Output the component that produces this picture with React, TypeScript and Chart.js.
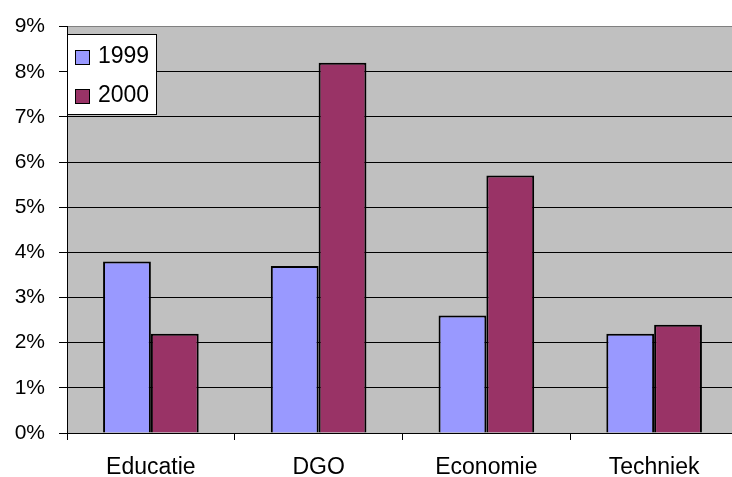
import React, { useEffect, useRef } from "react";
import { Chart, registerables } from "chart.js";

Chart.register(...registerables);

const categories = ["Educatie", "DGO", "Economie", "Techniek"];
const seriesLabels = ["1999", "2000"];
const values1999 = [3.8, 3.7, 2.6, 2.2];
const values2000 = [2.2, 8.2, 5.7, 2.4];
const seriesColors = ["#9999FF", "#993366"];
const yMin = 0;
const yMax = 9;
const yStep = 1;

const FONT = "'Liberation Sans', Arial, sans-serif";

const plotBackground = {
  id: "plotBackground",
  beforeDraw(chart: any) {
    const { ctx, chartArea } = chart;
    ctx.save();
    ctx.fillStyle = "#C0C0C0";
    ctx.fillRect(chartArea.left, chartArea.top, chartArea.right - chartArea.left, chartArea.bottom - chartArea.top);
    ctx.restore();
  },
};

const boxLegend = {
  id: "boxLegend",
  afterDraw(chart: any) {
    const { ctx, chartArea } = chart;
    const x0 = Math.round(chartArea.left);
    const y0 = Math.round(chartArea.top + 7.5);
    const w = 90;
    const h = 81;
    ctx.save();
    ctx.fillStyle = "#FFFFFF";
    ctx.fillRect(x0, y0, w, h);
    ctx.strokeStyle = "#000000";
    ctx.lineWidth = 1;
    ctx.strokeRect(x0 + 0.5, y0 + 0.5, w - 1, h - 1);
    chart.data.datasets.forEach((ds: any, i: number) => {
      const sy = y0 + 16 + i * 39;
      ctx.fillStyle = ds.backgroundColor;
      ctx.fillRect(x0 + 8, sy, 15, 15);
      ctx.strokeStyle = "#000";
      ctx.strokeRect(x0 + 8.5, sy + 0.5, 14, 14);
      ctx.fillStyle = "#000";
      ctx.font = `23px ${FONT}`;
      ctx.textBaseline = "alphabetic";
      ctx.textAlign = "left";
      ctx.fillText(ds.label, x0 + 31, y0 + 28.5 + i * 39);
    });
    ctx.restore();
  },
};

export default function App() {
  const canvasRef = useRef<HTMLCanvasElement | null>(null);

  useEffect(() => {
    const canvas = canvasRef.current;
    if (!canvas) return;
    const chart = new Chart(canvas, {
      type: "bar",
      data: {
        labels: categories,
        datasets: [
          {
            label: seriesLabels[0],
            data: values1999,
            backgroundColor: seriesColors[0],
            borderColor: "#000000",
            borderWidth: 2,
          },
          {
            label: seriesLabels[1],
            data: values2000,
            backgroundColor: seriesColors[1],
            borderColor: "#000000",
            borderWidth: 2,
          },
        ],
      },
      options: {
        responsive: false,
        animation: false,
        events: [],
        layout: { padding: { top: 24, right: 2, bottom: 0, left: 0 } },
        plugins: {
          legend: { display: false },
          tooltip: { enabled: false },
        },
        datasets: {
          bar: { categoryPercentage: 0.57, barPercentage: 1 },
        },
        scales: {
          x: {
            offset: true,
            afterFit: (scale: any) => {
              scale.height = 44;
            },
            grid: {
              display: true,
              drawOnChartArea: false,
              drawTicks: true,
              tickLength: 7,
              color: "#000000",
              tickColor: "#000000",
              offset: true,
            },
            border: { display: true, color: "#000000", width: 1 },
            ticks: {
              color: "#000000",
              font: { family: FONT, size: 23 },
              padding: 14,
              maxRotation: 0,
              autoSkip: false,
            },
          },
          y: {
            min: yMin,
            max: yMax,
            afterFit: (scale: any) => {
              scale.width = 67;
            },
            grid: {
              color: (ctx: any) => (ctx.tick && ctx.tick.value === yMax ? "#808080" : "#000000"),
              tickColor: "#000000",
              lineWidth: 1,
              drawTicks: true,
              tickLength: 8,
            },
            border: { display: true, color: "#000000", width: 1 },
            ticks: {
              stepSize: yStep,
              color: "#000000",
              font: { family: FONT, size: 21 },
              padding: 14,
              callback: (v: any) => `${v}%`,
            },
          },
        },
      },
      plugins: [plotBackground, boxLegend],
    });
    return () => chart.destroy();
  }, []);

  return (
    <div
      style={{
        position: "absolute",
        left: 0,
        top: 0,
        width: 732,
        height: 477,
        overflow: "hidden",
        background: "#FFFFFF",
      }}
    >
      <canvas ref={canvasRef} width={740} height={477} style={{ display: "block", width: 740, height: 477 }} />
    </div>
  );
}
